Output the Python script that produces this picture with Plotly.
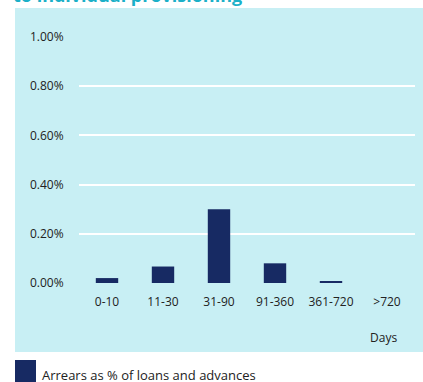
import plotly.graph_objects as go

categories = ["0-10", "11-30", "31-90", "91-360", "361-720", ">720"]
arrears_pct = [0.02, 0.067, 0.30, 0.08, 0.007, 0.0]
y_ticks = [0.0, 0.2, 0.4, 0.6, 0.8, 1.0]
series_name = "Arrears as % of loans and advances"

W, H = 423, 382
L, R, T, B = 79, 8, 37, 99
pw, ph = W - L - R, H - T - B

def px_x(x):
    return (x - L) / pw

def px_y(y):
    return (H - B - y) / ph

navy = "#172a63"
panel = "#c8eff4"
txt = "#222222"
font_family = "Open Sans, Noto Sans, sans-serif"

fig = go.Figure()
fig.add_trace(go.Bar(
    x=categories, y=arrears_pct, name=series_name,
    marker=dict(color=navy, line=dict(width=0)),
    width=0.4, showlegend=False,
))

fig.update_layout(
    width=W, height=H,
    margin=dict(l=L, r=R, t=T, b=B),
    paper_bgcolor="white",
    plot_bgcolor="rgba(0,0,0,0)",
    font=dict(family=font_family, size=12, color=txt),
    xaxis=dict(
        type="category", showgrid=False, zeroline=False, showline=False,
        ticks="outside", ticklen=8, tickcolor="rgba(0,0,0,0)",
        tickfont=dict(size=12, color=txt),
    ),
    yaxis=dict(
        range=[0, 1.0], tickvals=y_ticks,
        ticktext=[f"{v:.2f}%" for v in y_ticks],
        showgrid=True, gridcolor="white", gridwidth=2,
        zeroline=False, showline=False,
        ticks="outside", ticklen=12, tickcolor="rgba(0,0,0,0)",
        tickfont=dict(size=12, color=txt),
    ),
    shapes=[
        dict(type="rect", xref="paper", yref="paper",
             x0=px_x(15), x1=px_x(423), y0=px_y(352), y1=px_y(8),
             fillcolor=panel, line=dict(width=0), layer="below"),
        dict(type="rect", xref="paper", yref="paper",
             x0=px_x(15), x1=px_x(36), y0=px_y(383), y1=px_y(360),
             fillcolor=navy, line=dict(width=0)),
    ],
    annotations=[
        dict(text="<b>to individual provisioning</b>", xref="paper", yref="paper",
             x=px_x(11), y=px_y(9), xanchor="left", yanchor="bottom",
             showarrow=False, font=dict(size=18, color="#1bb0c8", family=font_family)),
        dict(text="Days", xref="paper", yref="paper",
             x=px_x(383), y=px_y(337), xanchor="center", yanchor="middle",
             showarrow=False, font=dict(size=12, color=txt)),
        dict(text=series_name, xref="paper", yref="paper",
             x=px_x(40), y=px_y(375), xanchor="left", yanchor="middle",
             showarrow=False, font=dict(size=13, color=txt)),
    ],
)

fig.write_html("out.html")
